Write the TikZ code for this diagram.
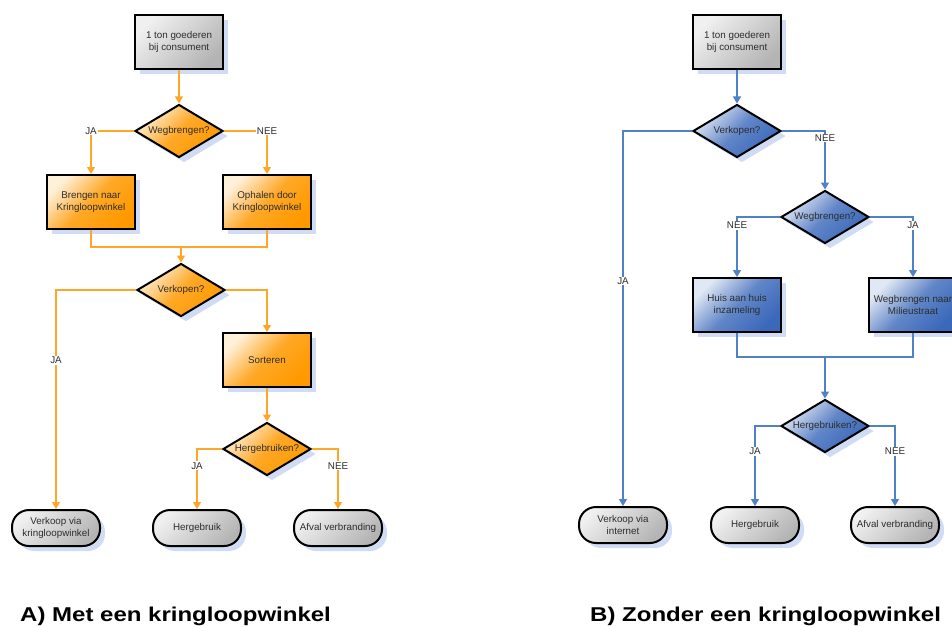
\documentclass[tikz,border=0pt]{standalone}
\usepackage{fontspec}
\setmainfont{Liberation Sans}
\newfontfamily\titlefont[FakeStretch=1.2]{Liberation Sans}
\usetikzlibrary{arrows.meta,shapes.geometric,shadows}
\definecolor{oranje}{RGB}{255,153,0}
\definecolor{oranjelijn}{RGB}{255,166,38}
\definecolor{blauw}{RGB}{58,104,186}
\definecolor{blauwlijn}{RGB}{79,129,199}
\definecolor{grijs}{RGB}{180,180,180}
\definecolor{schaduw}{RGB}{208,220,244}
\definecolor{tekst}{RGB}{45,45,45}

\begin{document}
\begin{tikzpicture}[x=1pt, y=-1pt,
  base/.style={draw=black, line width=2pt, font=\fontsize{9.8}{11.5}\selectfont, text=tekst, align=center, inner sep=1pt, drop shadow={shadow xshift=5pt, shadow yshift=-5pt, fill=schaduw, opacity=1}},
  box/.style={base, rectangle, minimum width=88pt, minimum height=54pt},
  keuze/.style={base, diamond, aspect=2.6, minimum width=88pt, minimum height=53pt, inner sep=0pt},
  eind/.style={base, rectangle, rounded corners=17pt, minimum width=88pt, minimum height=36pt},
  grijsvul/.style={top color=grijs!20!white, bottom color=grijs, shading angle=45},
  oranjevul/.style={top color=oranje!15!white, bottom color=oranje, middle color=oranje!85!white, shading angle=45},
  blauwvul/.style={top color=blauw!15!white, bottom color=blauw, middle color=blauw!80!white, shading angle=45},
  olijn/.style={draw=oranjelijn, line width=1.3pt},
  blijn/.style={draw=blauwlijn, line width=1.3pt},
  tip/.style={-{Triangle[width=8pt,length=7pt]}},
  lbl/.style={fill=white, text=tekst, font=\fontsize{9.8}{11}\selectfont, inner sep=1pt},
  titel/.style={font=\titlefont\bfseries\fontsize{20}{24}\selectfont, anchor=base west, inner sep=0pt}
]
\useasboundingbox (0,0) rectangle (952,626);

% A) met een kringloopwinkel
\node[box, grijsvul] (a1) at (179,42) {1 ton goederen\\bij consument};
\node[keuze, oranjevul] (aweg) at (179,131) {Wegbrengen?};
\node[box, oranjevul] (abreng) at (91,202) {Brengen naar\\Kringloopwinkel};
\node[box, oranjevul] (aophaal) at (267,202) {Ophalen door\\Kringloopwinkel};
\coordinate (asam) at (181,247);
\node[keuze, oranjevul] (averk) at (181,290) {Verkopen?};
\node[box, oranjevul] (asort) at (267,360) {Sorteren};
\node[keuze, oranjevul] (aherg) at (267,449) {Hergebruiken?};
\node[eind, grijsvul] (averkoop) at (56,528) {Verkoop via\\kringloopwinkel};
\node[eind, grijsvul] (ahergebruik) at (197,528) {Hergebruik};
\node[eind, grijsvul] (aafval) at (338,528) {Afval verbranding};

\draw[olijn, tip] (a1) -- (aweg);
\draw[olijn, tip] (aweg.west) -| node[lbl, pos=0.5] {JA} (abreng.north);
\draw[olijn, tip] (aweg.east) -| node[lbl, pos=0.5] {NEE} (aophaal.north);
\draw[olijn] (abreng.south) |- (asam) -| (aophaal.south);
\draw[olijn, tip] (asam) -- (averk);
\draw[olijn, tip] (averk.west) -| node[lbl, pos=0.66] {JA} (averkoop.north);
\draw[olijn, tip] (averk.east) -| (asort.north);
\draw[olijn, tip] (asort) -- (aherg);
\draw[olijn, tip] (aherg.west) -| node[lbl, pos=0.64] {JA} (ahergebruik.north);
\draw[olijn, tip] (aherg.east) -| node[lbl, pos=0.64] {NEE} (aafval.north);

% B) zonder een kringloopwinkel
\node[box, grijsvul] (b1) at (737,42) {1 ton goederen\\bij consument};
\node[keuze, blauwvul] (bverk) at (737,131) {Verkopen?};
\node[keuze, blauwvul] (bweg) at (825,217) {Wegbrengen?};
\node[box, blauwvul] (bhuis) at (737,305) {Huis aan huis\\inzameling};
\node[box, blauwvul] (bmilieu) at (913,305) {Wegbrengen naar\\Milieustraat};
\coordinate (bsam) at (825,357);
\node[keuze, blauwvul] (bherg) at (825,426) {Hergebruiken?};
\node[eind, grijsvul] (bverkoop) at (623,525) {Verkoop via\\internet};
\node[eind, grijsvul] (bhergebruik) at (755,525) {Hergebruik};
\node[eind, grijsvul] (bafval) at (895,525) {Afval verbranding};

\draw[blijn, tip] (b1) -- (bverk);
\draw[blijn, tip] (bverk.west) -| node[lbl, pos=0.70] {JA} (bverkoop.north);
\draw[blijn, tip] (bverk.east) -| node[lbl, pos=0.56] {NEE} (bweg.north);
\draw[blijn, tip] (bweg.west) -| node[lbl, pos=0.57] {NEE} (bhuis.north);
\draw[blijn, tip] (bweg.east) -| node[lbl, pos=0.57] {JA} (bmilieu.north);
\draw[blijn] (bhuis.south) |- (bsam) -| (bmilieu.south);
\draw[blijn, tip] (bsam) -- (bherg);
\draw[blijn, tip] (bherg.west) -| node[lbl, pos=0.66] {JA} (bhergebruik.north);
\draw[blijn, tip] (bherg.east) -| node[lbl, pos=0.66] {NEE} (bafval.north);

\node[titel] (atitel) at (20,621) {A) Met een kringloopwinkel};
\node[titel] (btitel) at (590,621) {B) Zonder een kringloopwinkel};

\end{tikzpicture}
\end{document}
